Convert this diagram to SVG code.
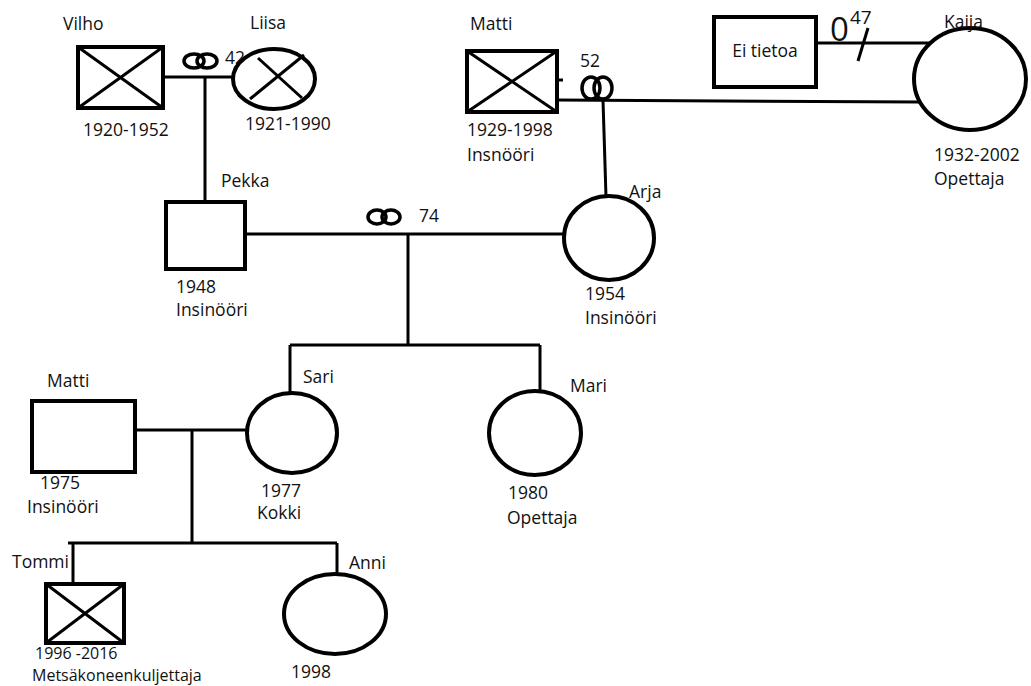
<svg xmlns="http://www.w3.org/2000/svg" width="1031" height="686" viewBox="0 0 1031 686">
<style>
.s{fill:#fff;stroke:#000;stroke-width:4}
.x{stroke:#000;stroke-width:3;fill:none}
.l{stroke:#000;stroke-width:3;fill:none}
.r{stroke:#000;stroke-width:3.5;fill:none}
text{font-family:"Open Sans","Noto Sans",sans-serif;font-size:17.5px;fill:#111}
.sm{font-size:16px}
</style>
<rect width="1031" height="686" fill="#fff"/>
<g id="connectors">
<line class="l" x1="163" y1="77" x2="240" y2="77"/>
<line class="l" x1="205" y1="77" x2="205" y2="201"/>
<line class="l" x1="245" y1="234" x2="563" y2="234"/>
<line class="l" x1="408" y1="234" x2="408" y2="345"/>
<line class="l" x1="290" y1="345" x2="540" y2="345"/>
<line class="l" x1="290" y1="345" x2="290" y2="393"/>
<line class="l" x1="540" y1="345" x2="540" y2="391"/>
<line class="l" x1="557" y1="100" x2="920" y2="102"/>
<line class="l" x1="557" y1="80" x2="563" y2="80"/>
<line class="l" x1="603" y1="100" x2="606" y2="197"/>
<line class="l" x1="816" y1="43" x2="940" y2="43"/>
<line class="l" x1="858" y1="61" x2="868" y2="28"/>
<line class="l" x1="135" y1="430" x2="247" y2="430"/>
<line class="l" x1="192" y1="430" x2="192" y2="543"/>
<line class="l" x1="68" y1="543" x2="337" y2="543"/>
<line class="l" x1="73" y1="543" x2="73" y2="583"/>
<line class="l" x1="337" y1="543" x2="337" y2="578"/>
<ellipse class="r" cx="194" cy="61" rx="10" ry="7"/>
<ellipse class="r" cx="207" cy="61" rx="10" ry="7"/>
<ellipse class="r" cx="377" cy="217" rx="9" ry="7"/>
<ellipse class="r" cx="391" cy="217" rx="9" ry="7"/>
<ellipse class="r" cx="591" cy="88" rx="9" ry="11"/>
<ellipse class="r" cx="603" cy="88" rx="9" ry="11"/>
<text x="225" y="64">42</text>
<text x="419" y="222">74</text>
<text x="580" y="67">52</text>
<text x="830" y="41" style="font-size:33px">0</text>
<text x="850" y="24" style="font-size:19px">47</text>
</g>
<g id="vilho">
<rect class="s" x="78" y="47" width="85" height="61"/>
<line class="x" x1="78" y1="47" x2="163" y2="108"/><line class="x" x1="78" y1="108" x2="163" y2="47"/>
<text x="63" y="30">Vilho</text><text x="83" y="136">1920-1952</text>
</g>
<g id="liisa">
<ellipse class="s" cx="274" cy="79" rx="41" ry="30"/>
<line class="x" x1="250" y1="99" x2="304" y2="55"/><line class="x" x1="258" y1="58" x2="302" y2="98"/>
<text x="250" y="29">Liisa</text><text x="245" y="130">1921-1990</text>
</g>
<g id="matti1">
<rect class="s" x="467" y="51" width="90" height="61"/>
<line class="x" x1="467" y1="51" x2="557" y2="112"/><line class="x" x1="467" y1="112" x2="557" y2="51"/>
<text x="470" y="30">Matti</text><text x="467" y="136">1929-1998</text><text x="467" y="161">Insnööri</text>
</g>
<g id="eitietoa">
<rect class="s" x="714" y="17" width="102" height="70"/>
<text x="765" y="57" text-anchor="middle">Ei tietoa</text>
</g>
<g id="kaija">
<ellipse class="s" cx="970" cy="79" rx="56" ry="51"/>
<text x="944" y="28">Kaija</text><text x="934" y="161">1932-2002</text><text x="934" y="185">Opettaja</text>
</g>
<g id="pekka">
<rect class="s" x="166" y="202" width="79" height="67"/>
<text x="221" y="187">Pekka</text><text x="176" y="293">1948</text><text x="176" y="316">Insinööri</text>
</g>
<g id="arja">
<ellipse class="s" cx="609" cy="238" rx="45" ry="42"/>
<text x="629" y="198">Arja</text><text x="585" y="300">1954</text><text x="585" y="324">Insinööri</text>
</g>
<g id="sari">
<ellipse class="s" cx="292" cy="433" rx="45" ry="40"/>
<text x="303" y="383">Sari</text><text x="261" y="497">1977</text><text x="257" y="519">Kokki</text>
</g>
<g id="mari">
<ellipse class="s" cx="535" cy="433" rx="46" ry="42"/>
<text x="570" y="392">Mari</text><text x="508" y="499">1980</text><text x="507" y="524">Opettaja</text>
</g>
<g id="matti2">
<rect class="s" x="32" y="401" width="103" height="71"/>
<text x="47" y="387">Matti</text><text x="40" y="489">1975</text><text x="27" y="513">Insinööri</text>
</g>
<g id="tommi">
<rect class="s" x="46" y="584" width="78" height="59"/>
<line class="x" x1="46" y1="584" x2="124" y2="643"/><line class="x" x1="46" y1="643" x2="124" y2="584"/>
<text x="12" y="568">Tommi</text><text class="sm" x="35" y="659">1996 -2016</text><text class="sm" x="32" y="681">Metsäkoneenkuljettaja</text>
</g>
<g id="anni">
<ellipse class="s" cx="335" cy="614" rx="51" ry="40"/>
<text x="349" y="569">Anni</text><text x="291" y="678">1998</text>
</g>
</svg>
